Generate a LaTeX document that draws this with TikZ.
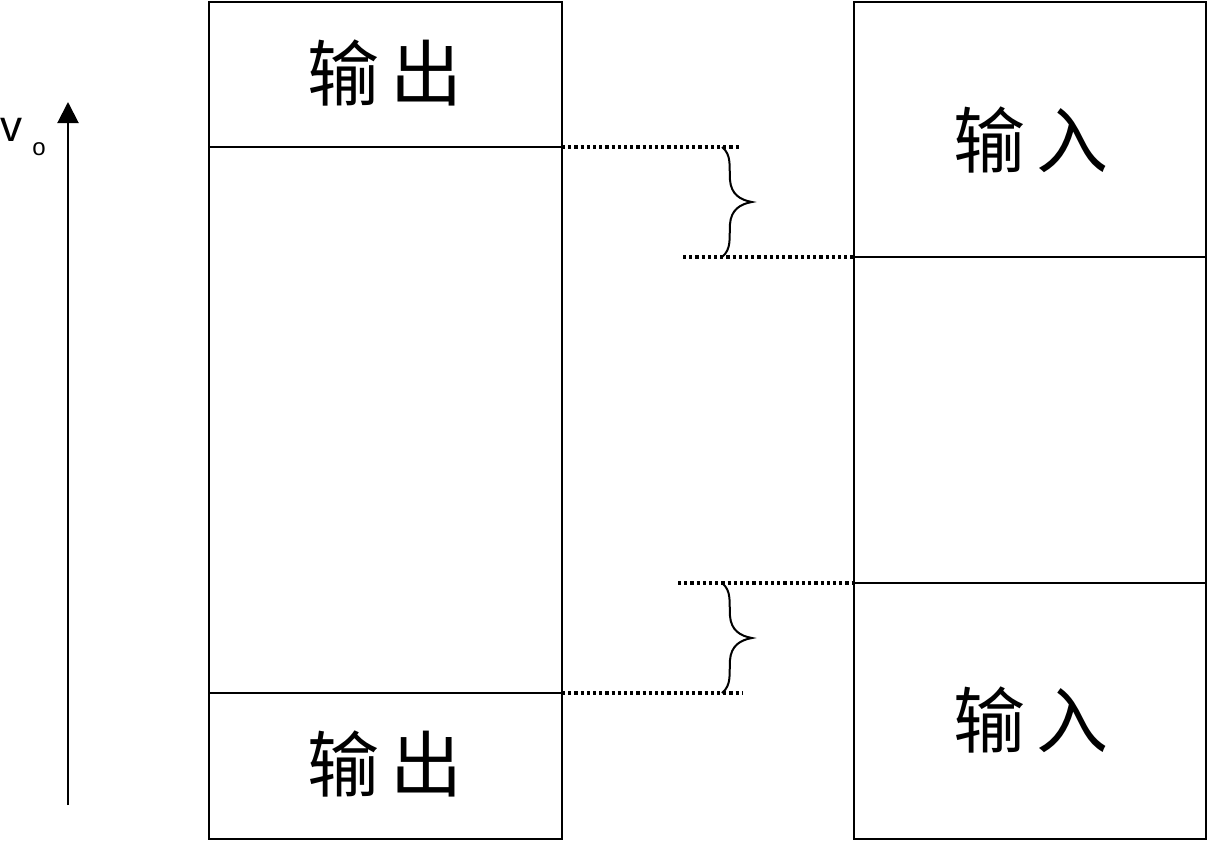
\documentclass[tikz,border=0pt]{standalone}
\usepackage{fontspec}
\newfontfamily\cjk{Noto Sans CJK SC}
\setmainfont{Liberation Sans}
\usetikzlibrary{arrows.meta}
\begin{document}
\begin{tikzpicture}[x=1pt,y=-1pt,
  box/.style={draw,line width=2.2pt},
  sep/.style={line width=2.2pt},
  dotline/.style={line width=3.2pt,dash pattern=on 3.2pt off 3pt},
  bracel/.style={line width=2pt},
  lbl/.style={font=\cjk\fontsize{72}{80}\selectfont,inner sep=0pt}]
\useasboundingbox (0,0) rectangle (1209,841);
% boxes
\draw[box] (209,2) rectangle (562,839);
\draw[box] (854,2) rectangle (1206,839);
\coordinate (L1a) at (209,147); \coordinate (L1b) at (562,147);
\coordinate (L2a) at (209,693); \coordinate (L2b) at (562,693);
\coordinate (R1a) at (854,257); \coordinate (R1b) at (1206,257);
\coordinate (R2a) at (854,583); \coordinate (R2b) at (1206,583);
\draw[sep] (L1a) -- (L1b);
\draw[sep] (L2a) -- (L2b);
\draw[sep] (R1a) -- (R1b);
\draw[sep] (R2a) -- (R2b);
% labels
\node[lbl] (o1) at (385,73) {输\,出};
\node[lbl] (o2) at (385,764) {输\,出};
\node[lbl] (i1) at (1031,140) {输\,入};
\node[lbl] (i2) at (1031,720) {输\,入};
% dotted lines
\coordinate (d1e) at (740,147);
\coordinate (d2s) at (683,257);
\coordinate (d3s) at (678,583);
\coordinate (d4e) at (742,693);
\draw[dotline] (L1b) -- (d1e);
\draw[dotline] (d2s) -- (R1a);
\draw[dotline] (d3s) -- (R2a);
\draw[dotline] (L2b) -- (d4e);
% braces
\foreach \t/\b in {147/257,583/693}{
  \pgfmathsetmacro{\m}{(\t+\b)/2}
  \draw[bracel] (722,\t) .. controls (732,\t+8) and (729,\m-35) .. (730,\m-22)
     .. controls (731,\m-8) and (740,\m-2) .. (752,\m)
     .. controls (740,\m+2) and (731,\m+8) .. (730,\m+22)
     .. controls (729,\m+35) and (732,\b-8) .. (722,\b);
}
% axis
\coordinate (ab) at (68,805);
\coordinate (at) at (68,102);
\draw[line width=2pt,-{Triangle[length=21pt,width=21pt]}] (ab) -- (at);
\node[font=\fontsize{44}{48}\selectfont,inner sep=0pt,anchor=base] (v) at (12,141) {v};
\node[font=\fontsize{24}{30}\selectfont,inner sep=0pt,anchor=base] (o) at (39,155) {o};
\end{tikzpicture}
\end{document}
